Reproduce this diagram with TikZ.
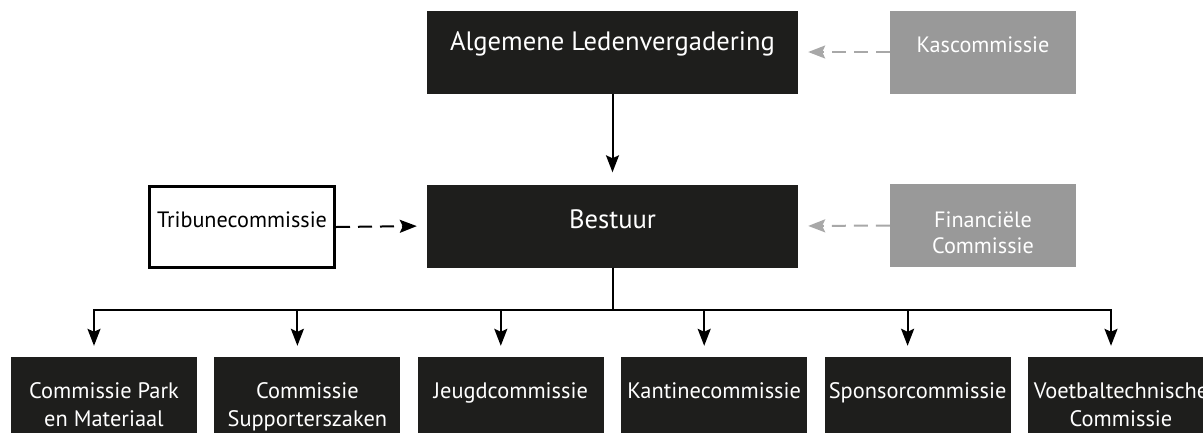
\documentclass[tikz,border=0pt]{standalone}
\usepackage{fontspec}
\setmainfont{PT Sans}
\usetikzlibrary{arrows.meta}
\definecolor{boxdark}{RGB}{30,30,28}
\definecolor{boxgray}{RGB}{153,153,153}
\definecolor{arrgray}{RGB}{168,168,168}
\begin{document}
\begin{tikzpicture}[x=1pt,y=-1pt,
	topbox/.style={fill=boxdark, minimum width=371pt, minimum height=83pt, inner sep=0pt},
	sidebox/.style={fill=boxgray, minimum width=186pt, minimum height=83pt, inner sep=0pt},
	tribbox/.style={draw=black, line width=3pt, fill=white, minimum width=185pt, minimum height=81pt, inner sep=0pt},
	lowbox/.style={fill=boxdark, minimum width=186pt, minimum height=84pt, inner sep=0pt},
	toptext/.style={anchor=north, yshift=-18pt, text=white, font=\fontsize{26.6}{30}\selectfont},
	sidetext/.style={anchor=north, yshift=-22.5pt, text=white, align=center, font=\fontsize{22.2}{26}\selectfont},
	lowtext/.style={sidetext, yshift=0.5pt, font=\fontsize{22.4}{28}\selectfont},
	arr/.style={line width=2pt, -{Stealth[length=17pt,width=13pt,inset=3pt]}},
	dasharr/.style={arr, dash pattern=on 14pt off 8pt}]
\useasboundingbox (0,0) rectangle (1203,432);
%
\node[topbox, label={[toptext]north:Algemene Ledenvergadering}] (alv) at (612.5,52) {};
\node[topbox, label={[toptext, yshift=-3.5pt]north:Bestuur}] (bestuur) at (612.5,226) {};
\node[sidebox, label={[sidetext]north:Kascommissie}] (kas) at (983,52) {};
\node[sidebox, label={[sidetext, yshift=-1.5pt]north:{Financiële\\Commissie}}] (fin) at (983,225.5) {};
\node[tribbox, label={[sidetext, text=black, yshift=-0.5pt]north:Tribunecommissie}] (trib) at (242,227) {};
\foreach \t [count=\i from 0] in {{Commissie Park\\en Materiaal}, {Commissie\\Supporterszaken}, Jeugdcommissie, Kantinecommissie, Sponsorcommissie, {Voetbaltechnische\\Commissie}}
	\node[lowbox, label={[lowtext]north:\t}] (k\i) at (104+203.4*\i,399) {};
%
\coordinate (bus) at (612.5,310);
\draw [arr, shorten >=12pt] (alv) -- (bestuur);
\draw [dasharr, shorten >=10pt] (trib.east) -- (bestuur.west);
\draw [dasharr, draw=arrgray, shorten >=10pt] (kas.west) -- (alv.east);
\draw [dasharr, draw=arrgray, shorten >=10pt] (fin.west) -- (bestuur.east);
\foreach \i in {0,...,5}
	\draw [arr, shorten >=11pt] (bestuur.south) -- (bus) -| ([xshift=-10pt]k\i.north);
\end{tikzpicture}
\end{document}
